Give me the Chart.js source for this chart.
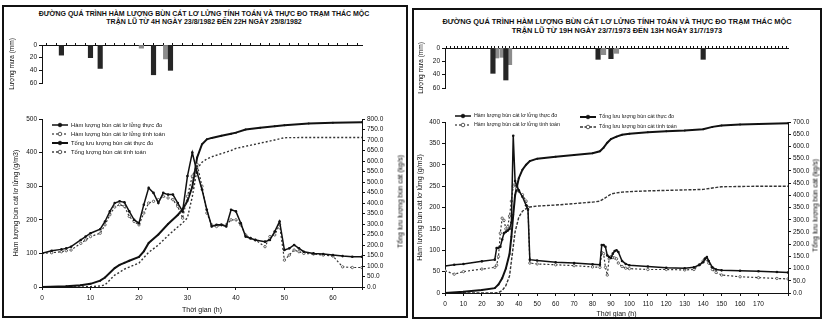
<!DOCTYPE html>
<html>
<head>
<meta charset="utf-8">
<script src="https://cdn.jsdelivr.net/npm/chart.js@4.4.1/dist/chart.umd.min.js"></script>
<style>
html,body{margin:0;padding:0;background:#fff;}
body{width:823px;height:321px;position:relative;overflow:hidden;font-family:"Liberation Sans",Arial,sans-serif;color:#111;}
.frame{position:absolute;border:2px solid #111;box-sizing:border-box;}
canvas{position:absolute;}
.title{position:absolute;font-weight:bold;text-align:center;white-space:nowrap;}
.vt{position:absolute;font-size:7px;text-align:center;white-space:nowrap;transform:rotate(-90deg);color:#000;}
</style>
</head>
<body>
<div class="frame" style="left:2px;top:5px;width:406px;height:313px;"></div>
<div class="frame" style="left:412px;top:8px;width:410px;height:311px;"></div>

<div class="title" style="left:4px;width:400px;top:10px;font-size:7px;line-height:8px;">ĐƯỜNG QUÁ TRÌNH HÀM LƯỢNG BÙN CÁT LƠ LỬNG TÍNH TOÁN VÀ THỰC ĐO TRẠM THÁC MỘC<br>TRẬN LŨ TỪ 4H NGÀY 23/8/1982 ĐẾN 22H NGÀY 25/8/1982</div>
<div class="title" style="left:414px;width:406px;top:18px;font-size:7.4px;line-height:8.5px;">ĐƯỜNG QUÁ TRÌNH HÀM LƯỢNG BÙN CÁT LƠ LỬNG TÍNH TOÁN VÀ THỰC ĐO TRẠM THÁC MỘC<br>TRẬN LŨ TỪ 19H NGÀY 23/7/1973 ĐẾN 13H NGÀY 31/7/1973</div>

<canvas id="rainL" width="410" height="60" style="left:0;top:30px;"></canvas>
<canvas id="mainL" width="410" height="221" style="left:0;top:100px;"></canvas>
<canvas id="rainR" width="413" height="65" style="left:410px;top:30px;"></canvas>
<canvas id="mainR" width="413" height="221" style="left:410px;top:100px;"></canvas>

<div class="vt" style="left:320px;top:198px;width:160px;">Tổng lưu lượng bùn cát (kg/s)</div>
<div class="vt" style="left:735px;top:202px;width:160px;">Tổng lưu lượng bùn cát (kg/s)</div>

<script>
// ---- trận lũ 1982 (bên trái) ----
const L_t      = [0,2,4,5,6,8,9,10,12,13,14,15,16,17,18,19,20,21,22,23,24,25,26,27,28,29,30,31,32,33,34,35,36,37,38,39,40,41,42,43,44,46,47,48,49,50,51,52,53,54,56,58,60,62,64,66];
const L_hl_do  = [100,108,112,115,120,140,150,160,172,195,225,250,255,252,225,200,190,245,295,280,250,280,275,275,250,225,330,400,340,290,230,180,185,185,180,230,225,190,150,145,140,135,140,165,195,110,115,125,115,105,100,98,95,92,90,90];
const L_hl_tt  = [100,102,105,108,110,130,140,150,160,185,215,238,245,240,210,195,185,220,250,255,260,270,265,260,240,205,270,330,365,300,220,185,180,185,185,200,200,185,155,145,140,120,150,155,185,80,95,110,105,100,98,95,92,60,58,58];
const L_tq     = [0,5,8,10,12,13,15,16,17,18,20,21,22,24,26,28,29,30,31,32,33,34,35,37,39,40,42,45,48,50,55,60,66];
const L_tong_do= [0,3,8,15,30,45,90,105,115,125,143,170,210,250,300,343,370,410,477,617,680,703,710,720,730,735,750,758,765,770,778,782,785];
const L_tong_tt= [0,0,0,2,5,10,57,70,85,95,114,140,165,200,245,286,305,330,430,563,594,610,620,635,650,660,670,685,700,711,712,712,712];
const L_mua1_t = [4,10,12,23,26.5];
const L_mua1   = [16,20,37,47,40];
const L_mua2_t = [20.5,25.5];
const L_mua2   = [5,22];

// ---- trận lũ 1973 (bên phải) ----
const R_t      = [0,5,10,20,27,28,29,30,31,32,33,34,35,36,37,38,39,40,42,44,45,46,50,60,70,80,84,85,86,87,88,89,90,91,92,93,94,96,98,100,110,120,130,135,138,140,141,142,143,145,147,150,160,170,180,186];
const R_hl_do  = [63,66,68,74,78,105,106,108,125,140,143,146,150,165,368,262,250,240,225,205,195,78,76,72,70,67,66,112,112,108,88,84,82,92,98,100,96,75,68,65,62,59,58,60,66,72,80,84,75,60,55,53,52,51,49,48];
const R_hl_tt  = [52,44,50,56,60,65,85,140,175,170,150,155,180,215,250,255,245,238,230,215,200,70,68,66,64,61,60,95,92,60,42,80,85,83,82,80,70,62,58,57,55,55,54,55,66,75,80,78,70,55,48,42,38,36,34,33];
const R_tq     = [0,10,20,27,29,31,33,35,36,37,38,40,42,44,46,50,60,70,80,84,86,88,90,93,96,100,110,120,130,140,145,150,160,170,186];
const R_tong_do= [0,5,12,20,35,60,100,160,230,320,400,470,505,525,540,550,558,565,572,580,595,615,630,640,648,652,658,662,665,670,680,686,690,692,695];
const R_tong_tt= [0,0,0,0,2,10,30,70,130,190,250,310,335,345,352,356,360,366,372,376,385,395,405,410,413,415,418,420,422,424,430,435,436,437,437];
const R_mua1_t = [26,33,83,90,140];
const R_mua1   = [38,48,17,16,17];
const R_mua2_t = [28,31,35,86,93];
const R_mua2   = [15,14,25,10,8];

const tenL = ['Hàm lượng bùn cát lơ lửng thực đo','Hàm lượng bùn cát lơ lửng tính toán','Tổng lưu lượng bùn cát thực đo','Tổng lượng bùn cát tính toán'];
const tenR = ['Hàm lượng bùn cát lơ lửng thực đo','Hàm lượng bùn cát lơ lửng tính toán','Tổng lưu lượng bùn cát thực đo','Tổng lưu lượng bùn cát tính toán'];

const FAM = '"Liberation Sans", Arial, sans-serif';
const INK = '#111';
const pts = (xs, ys) => xs.map((x, i) => ({x: x, y: ys[i]}));

// chú thích vẽ trong vùng đồ thị
const insideLegend = {
  id: 'insideLegend',
  afterDraw(chart, args, opts) {
    const ctx = chart.ctx, a = chart.chartArea;
    ctx.save();
    ctx.font = opts.size + 'px ' + FAM;
    ctx.textBaseline = 'middle';
    opts.items.forEach((p, i) => {
      const ds = chart.data.datasets[i];
      const x = a.left + p[0], y = a.top + p[1];
      ctx.strokeStyle = ds.borderColor;
      ctx.lineWidth = ds.borderWidth;
      ctx.setLineDash(ds.borderDash || []);
      ctx.beginPath(); ctx.moveTo(x, y); ctx.lineTo(x + opts.len, y); ctx.stroke();
      ctx.setLineDash([]);
      ctx.beginPath(); ctx.arc(x + opts.len / 2, y, 1.8, 0, Math.PI * 2);
      ctx.fillStyle = ds.pointBackgroundColor; ctx.fill();
      ctx.lineWidth = 0.8; ctx.stroke();
      ctx.fillStyle = INK;
      ctx.fillText(ds.label, x + opts.len + 3, y);
    });
    ctx.restore();
  }
};

function axisBase(extra) {
  return Object.assign({
    grid: {drawOnChartArea: false, tickLength: 3, color: INK},
    border: {color: INK, width: 1},
  }, extra);
}

function rain(id, t1, v1, t2, v2, xmax, leftW, topH, padR, padB, titlePad) {
  new Chart(document.getElementById(id), {
    type: 'bar',
    data: {datasets: [
      {data: pts(t1, v1), backgroundColor: '#262626', barThickness: 4.5, grouped: false},
      {data: pts(t2, v2), backgroundColor: '#8c8c8c', barThickness: 4.5, grouped: false}
    ]},
    options: {
      responsive: false, animation: false,
      layout: {padding: {left: 0, right: padR, top: 0, bottom: padB}},
      plugins: {legend: {display: false}, tooltip: {enabled: false}},
      scales: {
        x: axisBase({type: 'linear', position: 'top', min: 0, max: xmax, offset: false,
          ticks: {display: false, stepSize: 2},
          grid: {drawOnChartArea: false, tickLength: 2, color: INK},
          afterFit: s => { s.height = topH; }}),
        y: axisBase({reverse: true, min: 0, max: 60,
          ticks: {stepSize: 20, font: {family: FAM, size: 6.5}, color: INK, padding: 2},
          title: {display: true, text: 'Lượng mưa (mm)', color: INK, font: {family: FAM, size: 6.5}, padding: {top: titlePad, bottom: 0}},
          afterFit: s => { s.width = leftW; }})
      }
    }
  });
}

function main(id, c) {
  new Chart(document.getElementById(id), {
    type: 'line',
    data: {datasets: [
      {label: c.names[0], data: pts(c.t, c.hlDo), yAxisID: 'y', borderColor: INK, borderWidth: 1.5,
       pointRadius: 1.3, pointBackgroundColor: INK, pointBorderWidth: 0},
      {label: c.names[1], data: pts(c.t, c.hlTt), yAxisID: 'y', borderColor: '#333', borderWidth: 1.2, borderDash: [2, 2],
       pointRadius: 1.2, pointBackgroundColor: '#fff', pointBorderColor: '#333', pointBorderWidth: 0.7},
      {label: c.names[2], data: pts(c.tq, c.tongDo), yAxisID: 'y2', borderColor: INK, borderWidth: 2,
       pointRadius: 1, pointBackgroundColor: INK, pointBorderWidth: 0},
      {label: c.names[3], data: pts(c.tq, c.tongTt), yAxisID: 'y2', borderColor: '#333', borderWidth: 1.4, borderDash: c.totDash,
       pointRadius: 0, pointBackgroundColor: '#fff'}
    ]},
    options: {
      responsive: false, animation: false,
      layout: {padding: {left: 0, right: 0, top: c.top, bottom: 0}},
      elements: {line: {tension: 0}},
      plugins: {legend: {display: false}, tooltip: {enabled: false},
        insideLegend: {items: c.legend, len: 16, size: c.lgSize}},
      scales: {
        x: axisBase({type: 'linear', min: 0, max: c.xmax,
          ticks: {stepSize: 10, autoSkip: false, maxRotation: 0, padding: 4, color: INK,
            font: {family: FAM, size: 6.5}, callback: v => (v % 10 === 0 ? v : '')},
          title: {display: true, text: 'Thời gian (h)', color: INK, font: {family: FAM, size: 7}, padding: {top: 0, bottom: c.xTitlePad}},
          afterFit: s => { s.height = c.bottomH; }}),
        y: axisBase({min: 0, max: c.ymax,
          ticks: {stepSize: c.ystep, autoSkip: false, padding: 2, color: INK, font: {family: FAM, size: 6.5}},
          title: {display: true, text: 'Hàm lượng bùn cát lơ lửng (g/m3)', color: INK, font: {family: FAM, size: 7}, padding: {top: c.yTitlePad, bottom: 0}},
          afterFit: s => { s.width = c.leftW; }}),
        y2: axisBase({position: 'right', min: 0, max: c.y2max,
          ticks: {stepSize: 50, autoSkip: false, padding: 2, color: INK, font: {family: FAM, size: 6.5},
            callback: v => Number(v).toFixed(1)},
          afterFit: s => { s.width = c.rightW; }})
      }
    },
    plugins: [insideLegend]
  });
}

rain('rainL', L_mua1_t, L_mua1, L_mua2_t, L_mua2, 66, 42, 15, 48, 7, 8.5);
rain('rainR', R_mua1_t, R_mua1, R_mua2_t, R_mua2, 186, 35, 18, 35, 7, 7.5);

main('mainL', {t: L_t, hlDo: L_hl_do, hlTt: L_hl_tt, tq: L_tq, tongDo: L_tong_do, tongTt: L_tong_tt,
  names: tenL, xmax: 66, ymax: 500, ystep: 100, y2max: 800, totDash: [2, 2],
  top: 19, bottomH: 34, leftW: 42, rightW: 48, xTitlePad: 6.5, yTitlePad: 11.5,
  legend: [[10, 6], [10, 15], [10, 24], [10, 33]], lgSize: 5.8});

main('mainR', {t: R_t, hlDo: R_hl_do, hlTt: R_hl_tt, tq: R_tq, tongDo: R_tong_do, tongTt: R_tong_tt,
  names: tenR, xmax: 186, ymax: 400, ystep: 50, y2max: 700, totDash: [3, 1.5],
  top: 22, bottomH: 28, leftW: 35, rightW: 35, xTitlePad: 2.5, yTitlePad: 5.5,
  legend: [[10, -6], [10, 3], [135, -5], [135, 5]], lgSize: 5.3});
</script>
</body>
</html>
